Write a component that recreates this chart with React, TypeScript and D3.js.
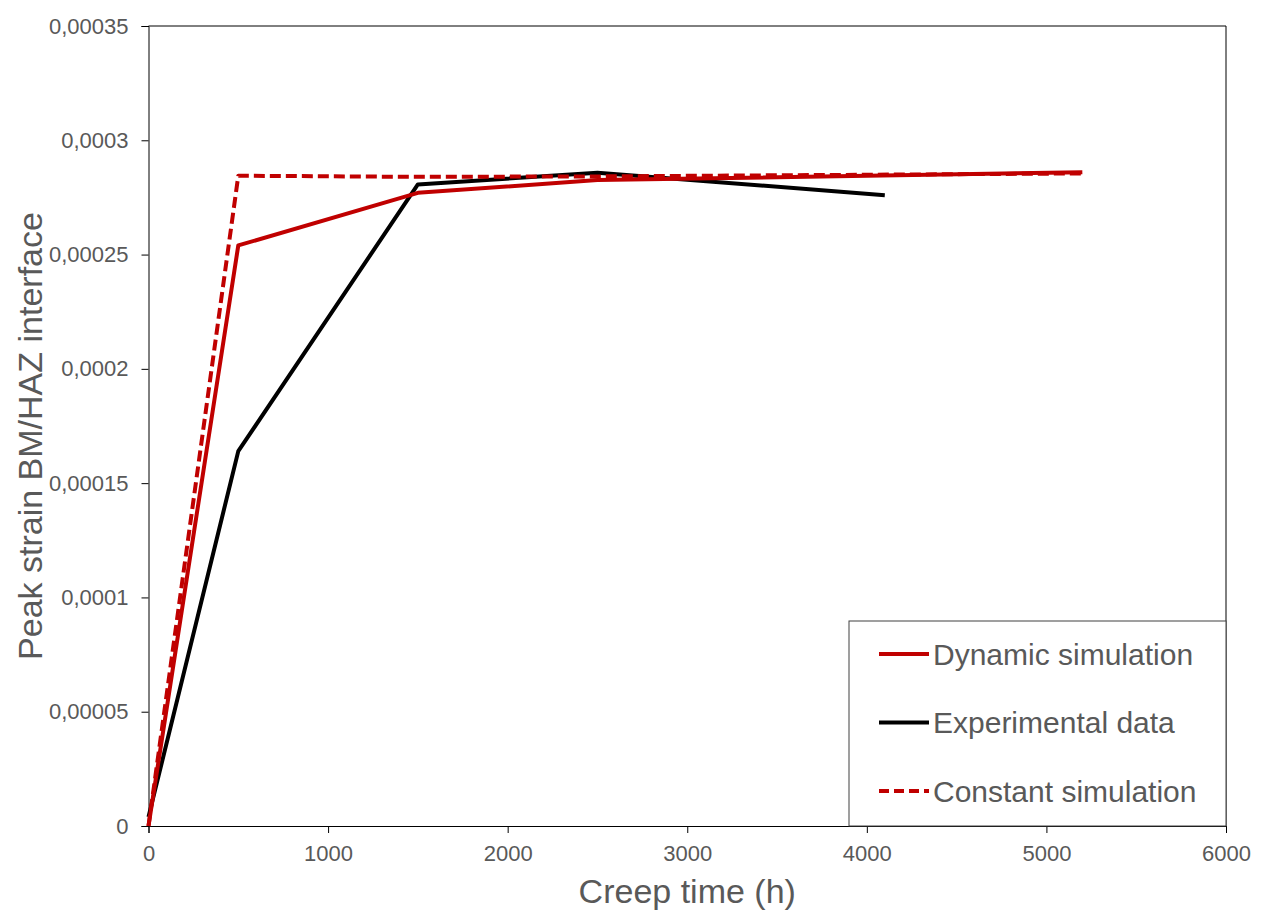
import { useEffect, useRef } from "react";
import * as d3 from "d3";

type Pt = { t: number; v: number };

// creep time (h) / peak strain
const dynamicSim: Pt[] = [
  { t: 0, v: 0 },
  { t: 500, v: 0.000254 },
  { t: 1500, v: 0.000277 },
  { t: 2500, v: 0.0002826 },
  { t: 5200, v: 0.000286 },
];

const experimental: Pt[] = [
  { t: 0, v: 0.000004 },
  { t: 500, v: 0.000164 },
  { t: 1500, v: 0.0002807 },
  { t: 2500, v: 0.0002858 },
  { t: 4100, v: 0.000276 },
];

const constantSim: Pt[] = [
  { t: 0, v: 0 },
  { t: 500, v: 0.0002845 },
  { t: 1500, v: 0.000284 },
  { t: 2500, v: 0.0002842 },
  { t: 5200, v: 0.0002855 },
];

const xTicks = [0, 1000, 2000, 3000, 4000, 5000, 6000];
const yTicks = [0, 0.00005, 0.0001, 0.00015, 0.0002, 0.00025, 0.0003, 0.00035];
const yTickLabels = ["0", "0,00005", "0,0001", "0,00015", "0,0002", "0,00025", "0,0003", "0,00035"];

const series = [
  { name: "Dynamic simulation", data: dynamicSim, color: "#C00000", dash: "" },
  { name: "Experimental data", data: experimental, color: "#000000", dash: "" },
  { name: "Constant simulation", data: constantSim, color: "#C00000", dash: "11,5" },
];

const W = 1266;
const H = 922;
const font = "'Liberation Sans', Arial, sans-serif";
const grey = "#595959";

export default function App() {
  const ref = useRef<SVGSVGElement>(null);

  useEffect(() => {
    if (!ref.current) return;
    const svg = d3.select(ref.current);
    svg.selectAll("*").remove();

    const margin = { top: 26, right: 40, bottom: 96, left: 148.5 };
    const width = W - margin.left - margin.right;
    const height = H - margin.top - margin.bottom;

    const x = d3.scaleLinear().domain([0, 6000]).range([0, width]);
    const y = d3.scaleLinear().domain([0, 0.00035]).range([height, 0]);

    const g = svg.append("g").attr("transform", `translate(${margin.left},${margin.top})`);

    // frame top + right
    g.append("path")
      .attr("d", `M0,0H${width}V${height}`)
      .attr("fill", "none")
      .attr("stroke", "#000")
      .attr("stroke-width", 1);

    // Y axis
    const yAxis = g
      .append("g")
      .call(
        d3
          .axisLeft(y)
          .tickValues(yTicks)
          .tickSize(7)
          .tickPadding(13)
          .tickFormat((_, i) => yTickLabels[i] ?? ""),
      );
    yAxis.select(".domain").attr("stroke", "#000");
    yAxis.selectAll("text").attr("font-size", 22).attr("font-family", font).attr("fill", grey);

    // X axis
    const xAxis = g
      .append("g")
      .attr("transform", `translate(0,${height})`)
      .call(d3.axisBottom(x).tickValues(xTicks).tickSize(7).tickPadding(12).tickFormat(d3.format("d")));
    xAxis.select(".domain").attr("stroke", "#000");
    xAxis.selectAll("text").attr("font-size", 22).attr("font-family", font).attr("fill", grey);

    // lines
    const line = d3
      .line<Pt>()
      .x((d) => x(d.t))
      .y((d) => y(d.v));

    [series[1], series[0], series[2]].forEach((s) => {
      g.append("path")
        .datum(s.data)
        .attr("d", line)
        .attr("fill", "none")
        .attr("stroke", s.color)
        .attr("stroke-width", 4)
        .attr("stroke-dasharray", s.dash || null)
        .attr("stroke-linejoin", "round");
    });

    // legend
    const lg = g.append("g").attr("transform", `translate(${849 - margin.left},${621 - margin.top})`);
    lg.append("rect")
      .attr("width", 1226 - 849)
      .attr("height", 826 - 621)
      .attr("fill", "#fff")
      .attr("stroke", "#404040")
      .attr("stroke-width", 1);
    series.forEach((s, i) => {
      const cy = 33 + i * 68.5;
      lg.append("line")
        .attr("x1", 30)
        .attr("x2", 80)
        .attr("y1", cy)
        .attr("y2", cy)
        .attr("stroke", s.color)
        .attr("stroke-width", 4)
        .attr("stroke-dasharray", s.dash ? "10,5" : null);
      lg.append("text")
        .attr("x", 84)
        .attr("y", cy)
        .attr("dy", "0.35em")
        .attr("font-size", 30)
        .attr("font-family", font)
        .attr("fill", grey)
        .text(s.name);
    });

    // axis titles
    svg
      .append("text")
      .attr("x", margin.left + width / 2)
      .attr("y", 903)
      .attr("text-anchor", "middle")
      .attr("font-size", 34)
      .attr("font-family", font)
      .attr("fill", grey)
      .text("Creep time (h)");

    svg
      .append("text")
      .attr("transform", `translate(42,${margin.top + height / 2 + 10}) rotate(-90)`)
      .attr("text-anchor", "middle")
      .attr("font-size", 34)
      .attr("font-family", font)
      .attr("fill", grey)
      .text("Peak strain BM/HAZ interface");
  }, []);

  return <svg ref={ref} width={W} height={H} style={{ display: "block", margin: -8 }} />;
}
